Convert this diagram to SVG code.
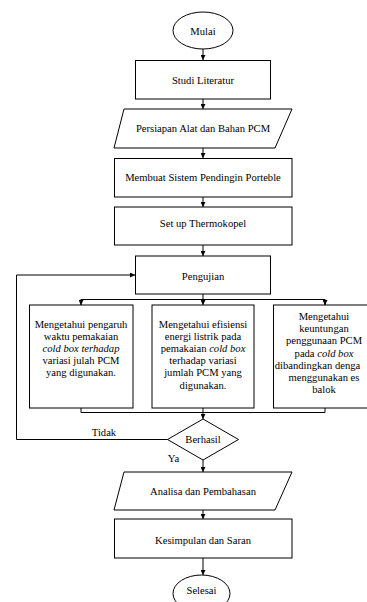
<svg xmlns="http://www.w3.org/2000/svg" width="367" height="602" viewBox="0 0 367 602">
<style>
.s{fill:#fff;stroke:#000;stroke-width:1}
.t{font-family:"Liberation Serif","Times New Roman",serif;font-size:10.6px;fill:#000;text-anchor:middle}
.l{fill:none;stroke:#000;stroke-width:1}
.i{font-style:italic}
</style>
<defs>
<marker id="a" viewBox="0 0 6 6" refX="6" refY="3" markerWidth="5" markerHeight="5" orient="auto" markerUnits="userSpaceOnUse">
<path d="M0,0 L6,3 L0,6 Z" fill="#000"/>
</marker>
</defs>
<rect width="367" height="602" fill="#fff"/>
<g id="connectors">
<line class="l" x1="203" y1="49" x2="203" y2="60" marker-end="url(#a)"/>
<line class="l" x1="203" y1="99" x2="203" y2="109" marker-end="url(#a)"/>
<line class="l" x1="203" y1="148" x2="203" y2="158" marker-end="url(#a)"/>
<line class="l" x1="203" y1="197" x2="203" y2="207" marker-end="url(#a)"/>
<line class="l" x1="203" y1="245" x2="203" y2="256" marker-end="url(#a)"/>
<line class="l" x1="203" y1="294" x2="203" y2="305" marker-end="url(#a)"/>
<polyline class="l" points="81,305 81,299.5 325,299.5 325,305"/>
<line class="l" x1="81" y1="299.5" x2="81" y2="305" marker-end="url(#a)"/>
<line class="l" x1="325" y1="299.5" x2="325" y2="305" marker-end="url(#a)"/>
<polyline class="l" points="81,408 81,412.5 325,412.5 325,408"/>
<line class="l" x1="203" y1="408" x2="203" y2="412.5"/>
<line class="l" x1="203" y1="412.5" x2="203" y2="419" marker-end="url(#a)"/>
<polyline class="l" points="167.5,439.5 16.5,439.5 16.5,275 135,275" marker-end="url(#a)"/>
<text class="t" x="104" y="435.5">Tidak</text>
<text class="t" x="173.5" y="462">Ya</text>
<line class="l" x1="203" y1="460" x2="203" y2="472" marker-end="url(#a)"/>
<line class="l" x1="203" y1="510" x2="203" y2="519" marker-end="url(#a)"/>
<line class="l" x1="203" y1="558" x2="203" y2="575" marker-end="url(#a)"/>
</g>
<g id="mulai">
<ellipse class="s" cx="203" cy="30.5" rx="30" ry="18.5"/>
<text class="t" x="203" y="34.5">Mulai</text>
</g>
<g id="studi">
<rect class="s" x="135.5" y="60.5" width="135" height="38.5"/>
<text class="t" x="203" y="83.5">Studi Literatur</text>
</g>
<g id="persiapan">
<polygon class="s" points="124,109 292,109 275,148 114,148"/>
<text class="t" x="203" y="131.5">Persiapan Alat dan Bahan PCM</text>
</g>
<g id="membuat">
<rect class="s" x="114.5" y="158.5" width="177.5" height="38.5"/>
<text class="t" x="203" y="181">Membuat Sistem Pendingin Porteble</text>
</g>
<g id="setup">
<rect class="s" x="114.5" y="207" width="177.5" height="38"/>
<text class="t" x="203" y="226.5">Set up Thermokopel</text>
</g>
<g id="pengujian">
<rect class="s" x="135.5" y="256" width="135" height="38"/>
<text class="t" x="203" y="279.5">Pengujian</text>
</g>
<g id="box1">
<rect class="s" x="29.5" y="305" width="103.5" height="103"/>
<text class="t" x="81" y="327.5">Mengetahui pengaruh</text>
<text class="t" x="81" y="339.7">waktu pemakaian</text>
<text class="t i" x="81" y="351.9">cold box terhadap</text>
<text class="t" x="81" y="364.1">variasi julah PCM</text>
<text class="t" x="81" y="376.3">yang digunakan.</text>
</g>
<g id="box2">
<rect class="s" x="152" y="305" width="102" height="103"/>
<text class="t" x="203" y="327.5">Mengetahui efisiensi</text>
<text class="t" x="203" y="339.7">energi listrik pada</text>
<text class="t" x="203" y="351.9">pemakaian <tspan class="i">cold box</tspan></text>
<text class="t" x="203" y="364.1">terhadap variasi</text>
<text class="t" x="203" y="376.3">jumlah PCM yang</text>
<text class="t" x="203" y="388.5">digunakan.</text>
</g>
<g id="box3">
<rect class="s" x="273.5" y="305" width="103" height="103"/>
<text class="t" x="324" y="320">Mengetahui</text>
<text class="t" x="324" y="332.2">keuntungan</text>
<text class="t" x="324" y="344.4">penggunaan PCM</text>
<text class="t" x="324" y="356.6">pada <tspan class="i">cold box</tspan></text>
<text class="t" x="317.5" y="368.8">dibandingkan denga</text>
<text class="t" x="324" y="381">menggunakan es</text>
<text class="t" x="324" y="393.2">balok</text>
</g>
<g id="berhasil">
<polygon class="s" points="203,419 238.5,439.5 203,460 167.5,439.5"/>
<text class="t" x="203" y="443">Berhasil</text>
</g>
<g id="analisa">
<polygon class="s" points="124,472 292,472 275,510 114,510"/>
<text class="t" x="203" y="495">Analisa dan Pembahasan</text>
</g>
<g id="kesimpulan">
<rect class="s" x="114.5" y="519" width="177.5" height="39"/>
<text class="t" x="203" y="543.5">Kesimpulan dan Saran</text>
</g>
<g id="selesai">
<ellipse class="s" cx="201.5" cy="593.5" rx="28.5" ry="18.5"/>
<text class="t" x="201.5" y="594">Selesai</text>
</g>
</svg>
